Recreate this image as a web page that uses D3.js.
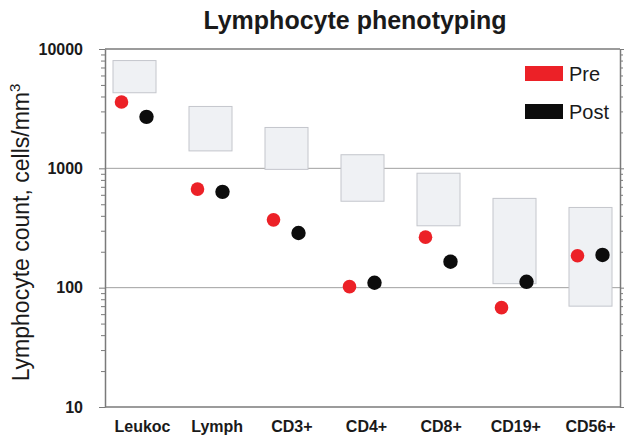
<!DOCTYPE html>
<html>
<head>
<meta charset="utf-8">
<script src="https://cdn.jsdelivr.net/npm/d3@7"></script>
<style>
  html, body { margin: 0; padding: 0; background: #fff; }
  svg { display: block; font-family: Arial, "Liberation Sans", Helvetica, sans-serif; }
</style>
</head>
<body>
<svg id="chart" width="624" height="437"></svg>
<script>
// ---- data ----
const categories = ["Leukoc", "Lymph", "CD3+", "CD4+", "CD8+", "CD19+", "CD56+"];
const normalLow  = [4300, 1400, 980, 530, 330, 108, 70];
const normalHigh = [8000, 3300, 2200, 1300, 910, 560, 470];
const preValues  = [3600, 670, 370, 102, 265, 68, 185];
const postValues = [2700, 635, 287, 110, 165, 112, 188];
const seriesNames = ["Pre", "Post"];
const yTickLabels = [10, 100, 1000, 10000];

// ---- layout ----
const W = 624, H = 437;
const plot = { left: 105, right: 620, top: 49, bottom: 407 };
const svg = d3.select("#chart");

const x = d3.scalePoint().domain(categories).range([134.5, 590.5]);
const xLabel = d3.scalePoint().domain(categories).range([142, 590]);
const y = d3.scaleLog().domain([10, 10000]).range([plot.bottom, plot.top]);
const colors = { Pre: "#ec2127", Post: "#0c0c0c" };

// gridlines at 1000 and 100
svg.append("g").selectAll("line")
  .data([100, 1000]).join("line")
  .attr("x1", plot.left).attr("x2", plot.right)
  .attr("y1", d => y(d)).attr("y2", d => y(d))
  .attr("stroke", "#a0a0a0").attr("stroke-width", 1);

// normal range boxes
const boxW = 43;
svg.append("g").selectAll("rect")
  .data(categories).join("rect")
  .attr("x", d => x(d) - boxW / 2)
  .attr("width", boxW)
  .attr("y", (d, i) => y(normalHigh[i]))
  .attr("height", (d, i) => y(normalLow[i]) - y(normalHigh[i]))
  .attr("fill", "#eff1f4")
  .attr("stroke", "#c4c6cc")
  .attr("stroke-width", 1);

// frame
const frameColor = "#7a7a7a";
svg.append("line").attr("x1", plot.left).attr("x2", plot.right)
  .attr("y1", plot.top).attr("y2", plot.top).attr("stroke", frameColor).attr("stroke-width", 1.5);

// axes
const allTicks = y.ticks();
const isMajor = d => yTickLabels.includes(d);
const yAxisL = svg.append("g").attr("transform", `translate(${plot.left},0)`)
  .call(d3.axisLeft(y).tickValues(allTicks).tickFormat(d => isMajor(d) ? d : "").tickSizeOuter(0));
yAxisL.selectAll(".tick line").attr("x2", d => isMajor(d) ? -6 : -4);
const yAxisR = svg.append("g").attr("transform", `translate(${plot.right},0)`)
  .call(d3.axisRight(y).tickValues(allTicks).tickFormat("").tickSizeOuter(0));
yAxisR.selectAll(".tick line").attr("x2", d => isMajor(d) ? 5 : 3);
[yAxisL, yAxisR].forEach(g => {
  g.select(".domain").attr("stroke", frameColor).attr("stroke-width", 1.5);
  g.selectAll(".tick line").attr("stroke", frameColor).attr("stroke-width", 1);
});
yAxisL.selectAll(".tick text")
  .attr("x", -22)
  .style("font-size", "16px").style("font-weight", "bold").attr("fill", "#1a1a1a");

const xAxis = svg.append("g").attr("transform", `translate(0,${plot.bottom})`)
  .call(d3.axisBottom(xLabel).tickSize(0).tickPadding(14));
xAxis.select(".domain").remove();
svg.append("line").attr("x1", plot.left).attr("x2", plot.right)
  .attr("y1", plot.bottom).attr("y2", plot.bottom).attr("stroke", frameColor).attr("stroke-width", 1.5);
xAxis.selectAll(".tick text")
  .style("font-size", "16px").style("font-weight", "bold").attr("fill", "#1a1a1a");

// points
const offsets = { Pre: -13, Post: 12 };
const seriesData = { Pre: preValues, Post: postValues };
seriesNames.forEach(s => {
  svg.append("g").selectAll("circle")
    .data(categories).join("circle")
    .attr("cx", d => x(d) + offsets[s])
    .attr("cy", (d, i) => y(seriesData[s][i]))
    .attr("r", s === "Pre" ? 6.8 : 7.2)
    .attr("fill", colors[s]);
});

// legend
const legend = svg.append("g");
seriesNames.forEach((s, i) => {
  const ly = 66 + i * 38;
  legend.append("rect").attr("x", 525).attr("y", ly).attr("width", 38).attr("height", 15)
    .attr("fill", colors[s]);
  legend.append("text").attr("x", 569).attr("y", ly + 15)
    .style("font-size", "20px").attr("fill", "#1a1a1a").text(s);
});

// title
svg.append("text").attr("x", 355).attr("y", 29).attr("text-anchor", "middle")
  .style("font-size", "25px").style("font-weight", "bold").attr("fill", "#1a1a1a")
  .text("Lymphocyte phenotyping");

// y axis title
const yt = svg.append("text")
  .attr("transform", `translate(29,${(78 + 387) / 2}) rotate(-90)`)
  .attr("text-anchor", "middle")
  .style("font-size", "23px").attr("fill", "#1a1a1a");
yt.append("tspan").text("Lymphocyte count, cells/mm");
yt.append("tspan").attr("dy", -9).style("font-size", "15px").text("3");
</script>
</body>
</html>
